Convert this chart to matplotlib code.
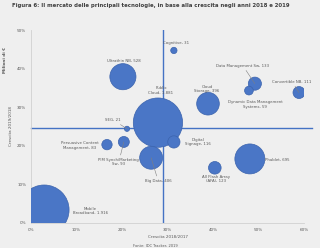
import matplotlib
matplotlib.use("Agg")
import matplotlib.pyplot as plt
import numpy as np

# technologies, market size (mln EUR), growth 2018/2017 (%), growth 2019/2018 (%)
labels = ["Cognitive, 31", "Ultrathin NB, 528", "Public\nCloud, 1.881", "SEG, 21",
          "Cloud\nStorage, 396", "Data Management Sw, 133",
          "Dynamic Data Management\nSystems, 59", "Convertible NB, 111",
          "Persuasive Content\nManagement, 83", "PIM Synch/Marketing\nSw, 93",
          "Big Data, 406", "Digital\nSignage, 116", "All Flash Array\n(AFA), 123",
          "Phablet, 695", "Mobile\nBroadband, 1.916"]
values = [31, 528, 1881, 21, 396, 133, 59, 111, 83, 93, 406, 116, 123, 695, 1916]
growth_1817 = [31.4, 20.2, 27.9, 21.1, 38.9, 49.2, 47.9, 58.9, 16.7, 20.4, 26.4, 31.4, 40.4, 48.1, 2.9]
growth_1918 = [44.7, 37.9, 26.0, 24.4, 30.9, 36.1, 34.3, 33.8, 20.3, 21.0, 16.9, 21.0, 14.3, 16.6, 3.4]
avg_x = 29.0
avg_y = 24.7

# label offsets in pixels (dx, dy) and whether a leader line is drawn
offsets = [(2, 7), (1, 16), (3, 32), (-14, 9), (-1, 15), (-12, 18), (6, -14), (-7, 11),
           (-27, -1), (-5, -20), (7, -23), (24, 0), (1, -11), (27, -1), (46, -1)]
leaders = [False, False, False, True, False, True, False, True,
           False, True, True, False, False, False, False]

bg = "#efefef"
blue = "#4a76c6"
txt = "#595959"

fig = plt.figure(figsize=(3.2, 2.48), dpi=100, facecolor=bg)
ax = fig.add_axes([31/320, 25/248, 273/320, 193/248], facecolor=bg)

sizes = np.array(values) * 0.67
ax.scatter(growth_1817, growth_1918, s=sizes, color=blue, edgecolor="#3b63ad",
           linewidth=0.5, zorder=3)

ax.plot([avg_x, avg_x], [0, 50], color="#4472c4", lw=1, zorder=2)
ax.plot([0, 61.8], [avg_y, avg_y], color="#4472c4", lw=1, zorder=2, clip_on=False)

for i, lab in enumerate(labels):
    dx, dy = offsets[i]
    ap = dict(arrowstyle="-", color="#7f7f7f", lw=0.4, shrinkA=0, shrinkB=0) if leaders[i] else None
    ax.annotate(lab, (growth_1817[i], growth_1918[i]), xytext=(dx*0.72, dy*0.72),
                textcoords="offset points", ha="center", va="center", fontsize=2.8,
                color=txt, linespacing=1.1, arrowprops=ap, zorder=4)

ax.set_xlim(0, 60)
ax.set_ylim(0, 50)
ax.set_xticks(np.arange(0, 61, 10))
ax.set_yticks(np.arange(0, 51, 10))
ax.set_xticklabels([f"{t}%" for t in range(0, 61, 10)])
ax.set_yticklabels([f"{t}%" for t in range(0, 51, 10)])
ax.tick_params(length=0, labelsize=3, labelcolor=txt, pad=3.5)
for s in ["top", "right"]:
    ax.spines[s].set_visible(False)
for s in ["left", "bottom"]:
    ax.spines[s].set_color("#d0d0d0")
    ax.spines[s].set_linewidth(0.6)

ax.set_xlabel("Crescita 2018/2017", fontsize=3, color=txt, labelpad=2)
ax.set_ylabel("Crescita 2019/2018", fontsize=3, color=txt, labelpad=4)
ax.yaxis.set_label_coords(-0.065, 0.5)
fig.text(5/320, 1 - 60/248, "Milioni di €", rotation=90, fontsize=3, color=txt,
         fontweight="bold", ha="center", va="center")
fig.text(0.47, 1 - 5/248, "Figura 6: Il mercato delle principali tecnologie, in base alla crescita negli anni 2018 e 2019",
         fontsize=3.9, color="#404040", fontweight="bold", ha="center", va="center")
fig.text(155/320, 1 - 246/248, "Fonte: IDC Tracker, 2019", fontsize=2.6, color=txt,
         ha="center", va="center")

fig.savefig("out.png", dpi=100, facecolor=bg)
